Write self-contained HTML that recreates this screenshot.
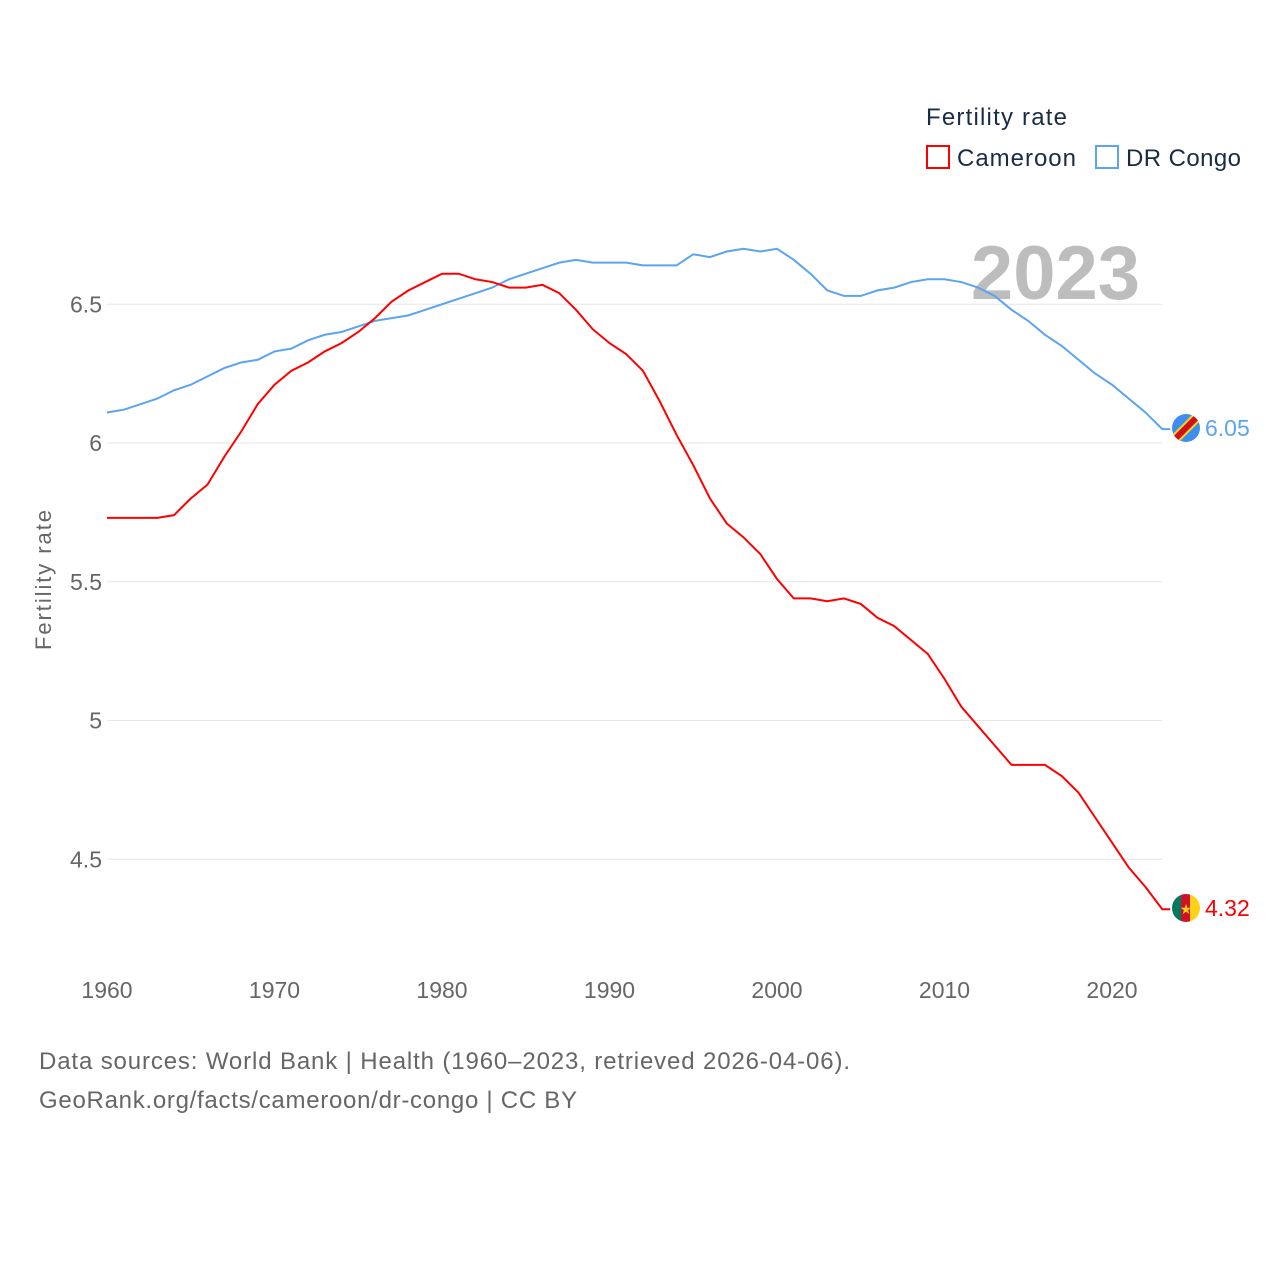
<!DOCTYPE html>
<html><head><meta charset="utf-8"><style>
html,body{margin:0;padding:0;background:#fff;}
svg{display:block;font-family:"Liberation Sans",sans-serif;}
</style></head><body>
<svg id="chart" width="1280" height="1280" viewBox="0 0 1280 1280">
<g id="grid"></g>
<g id="yticks"></g>
<g id="xticks"></g>
<text x="1140" y="299" text-anchor="end" font-size="76" font-weight="bold" fill="#bdbdbd">2023</text>
<g id="series"></g>
<text transform="translate(51,580) rotate(-90)" text-anchor="middle" font-size="22" fill="#666" textLength="140">Fertility rate</text>
<text x="926" y="125" font-size="24" fill="#1a2b45" textLength="141">Fertility rate</text>
<g>
<rect x="927" y="146" width="22" height="22" fill="none" stroke="#ff0000" stroke-width="2"/>
<text x="957" y="166" font-size="24" fill="#1a2b45" textLength="119">Cameroon</text></g>
<g>
<rect x="1096" y="146" width="22" height="22" fill="none" stroke="#5ba4f0" stroke-width="2"/>
<text x="1126" y="166" font-size="24" fill="#1a2b45" textLength="115">DR Congo</text></g>
<g>
<clipPath id="c1"><circle cx="1186" cy="428" r="14"/></clipPath>
<g clip-path="url(#c1)"><rect x="1170" y="412" width="32" height="32" fill="#3d8ef0"/>
<line x1="1170" y1="444" x2="1202" y2="412" stroke="#f7d618" stroke-width="10"/>
<line x1="1170" y1="444" x2="1202" y2="412" stroke="#ce1021" stroke-width="6"/></g></g>
<text x="1205" y="436" font-size="23" fill="#5ba4f0">6.05</text>
<g>
<clipPath id="c2"><circle cx="1186" cy="908" r="14"/></clipPath>
<g clip-path="url(#c2)"><rect x="1172" y="894" width="10" height="28" fill="#007a5e"/>
<rect x="1181" y="894" width="10" height="28" fill="#ce1126"/>
<rect x="1190" y="894" width="12" height="28" fill="#fcd116"/></g>
<text x="1186" y="914" text-anchor="middle" font-size="14" fill="#fcd116">★</text></g>
<text x="1205" y="916" font-size="23" fill="#ff0000">4.32</text>
<text x="39" y="1069" font-size="24" fill="#666" textLength="811">Data sources: World Bank | Health (1960–2023, retrieved 2026-04-06).</text>
<text x="39" y="1108" font-size="24" fill="#666" textLength="538">GeoRank.org/facts/cameroon/dr-congo | CC BY</text>
</svg>
<script>
const years = [];
for (let y = 1960; y <= 2023; y++) years.push(y);
const cameroon = [5.73,5.73,5.73,5.73,5.74,5.80,5.85,5.95,6.04,6.14,6.21,6.26,6.29,6.33,6.36,6.40,6.45,6.51,6.55,6.58,6.61,6.61,6.59,6.58,6.56,6.56,6.57,6.54,6.48,6.41,6.36,6.32,6.26,6.15,6.03,5.92,5.80,5.71,5.66,5.60,5.51,5.44,5.44,5.43,5.44,5.42,5.37,5.34,5.29,5.24,5.15,5.05,4.98,4.91,4.84,4.84,4.84,4.80,4.74,4.65,4.56,4.47,4.40,4.32];
const drCongo = [6.11,6.12,6.14,6.16,6.19,6.21,6.24,6.27,6.29,6.30,6.33,6.34,6.37,6.39,6.40,6.42,6.44,6.45,6.46,6.48,6.50,6.52,6.54,6.56,6.59,6.61,6.63,6.65,6.66,6.65,6.65,6.65,6.64,6.64,6.64,6.68,6.67,6.69,6.70,6.69,6.70,6.66,6.61,6.55,6.53,6.53,6.55,6.56,6.58,6.59,6.59,6.58,6.56,6.53,6.48,6.44,6.39,6.35,6.30,6.25,6.21,6.16,6.11,6.05];
const yTicks = [4.5,5,5.5,6,6.5];
const xTicks = [1960,1970,1980,1990,2000,2010,2020];
const NS = "http://www.w3.org/2000/svg";
const xS = v => 107 + (v - 1960) * 16.75;
const yS = v => 443 - (v - 6) * 277.5;
const grid = document.getElementById('grid'), yt = document.getElementById('yticks'), xt = document.getElementById('xticks'), ser = document.getElementById('series');
yTicks.forEach(t => {
  const l = document.createElementNS(NS,'line');
  
  
  l.setAttribute('x1',107); l.setAttribute('x2',1162);
  l.setAttribute('y1',yS(t)); l.setAttribute('y2',yS(t));
  l.setAttribute('stroke','#e6e6e6'); l.setAttribute('stroke-width','1');
  grid.appendChild(l);
  const tx = document.createElementNS(NS,'text');
  
  
  tx.setAttribute('x',102); tx.setAttribute('y',yS(t)+8);
  tx.setAttribute('text-anchor','end'); tx.setAttribute('font-size','23'); tx.setAttribute('fill','#666');
  tx.textContent = String(t);
  yt.appendChild(tx);
});
xTicks.forEach(t => {
  const tx = document.createElementNS(NS,'text');
  
  
  tx.setAttribute('x',xS(t)); tx.setAttribute('y',998);
  tx.setAttribute('text-anchor','middle'); tx.setAttribute('font-size','23'); tx.setAttribute('fill','#666');
  tx.textContent = String(t);
  xt.appendChild(tx);
});
function line(vals, color, name){
  const p = document.createElementNS(NS,'path');
  
  
  const last = vals[vals.length-1];
  let d = vals.map((v,i)=>(i?'L':'M')+xS(years[i]).toFixed(2)+','+yS(v).toFixed(2)).join(' ');
  d += ' L' + (xS(years[years.length-1]) + 8).toFixed(2) + ',' + yS(last).toFixed(2);
  p.setAttribute('d', d);
  p.setAttribute('fill','none'); p.setAttribute('stroke',color); p.setAttribute('stroke-width','2');
  ser.appendChild(p);
}
line(drCongo,'#5ba4f0','line-dr-congo');
line(cameroon,'#ff0000','line-cameroon');
</script>
</body></html>
